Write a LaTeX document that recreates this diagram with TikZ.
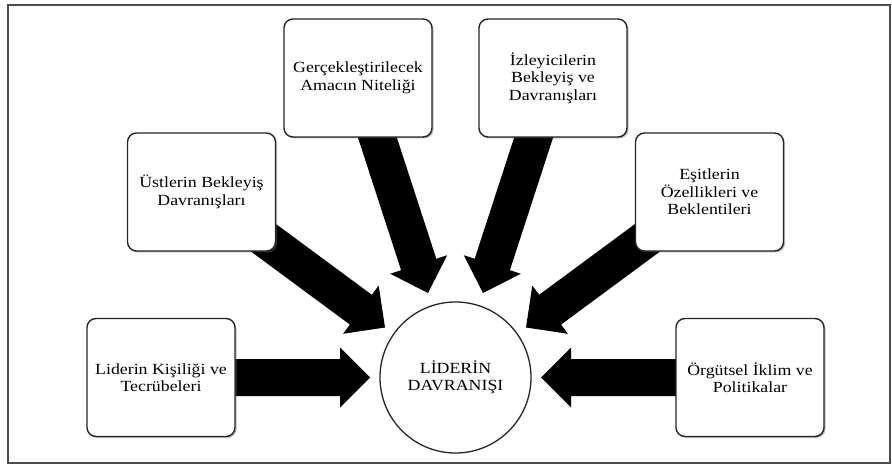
\documentclass[tikz,border=0pt]{standalone}
\usepackage{fontspec}
\setmainfont[FakeStretch=1.15]{Liberation Serif}
\usetikzlibrary{calc,shadows}
\pgfdeclarelayer{background}
\pgfsetlayers{background,main}
\tikzset{
  box/.style={draw=black!85, line width=1.4pt, fill=white, rounded corners=9pt,
    minimum width=148pt, minimum height=118pt, align=center, inner sep=2pt,
    font=\fontsize{15.5}{17.5}\selectfont,
    drop shadow={shadow xshift=1.5pt, shadow yshift=-1.5pt, opacity=0.45, fill=black!60}},
  hub/.style={circle, draw=black!85, line width=1.3pt, fill=white, minimum size=151pt,
    inner sep=0pt, align=center, font=\fontsize{15.5}{17.5}\selectfont},
  arrowfill/.style={fill=black},
  frame/.style={draw=black!70, line width=1.2pt}
}
\newcommand\blockarrow[2]{%
  \coordinate (hb) at ($(#2)!30pt!(#1)$);
  \fill[arrowfill] ($(#1)!18.5pt!90:(#2)$) -- ($(hb)!18.5pt!-90:(#1)$)
    -- ($(hb)!30pt!-90:(#1)$) -- (#2) -- ($(hb)!30pt!90:(#1)$)
    -- ($(hb)!18.5pt!90:(#1)$) -- ($(#1)!18.5pt!-90:(#2)$) -- cycle;
}
\begin{document}
\begin{tikzpicture}[x=1pt, y=-1pt]
\useasboundingbox (0,0) rectangle (892,465);
\draw[frame] (8,5) rectangle (890,463);

\node[hub] (c) at (455.5,377.5) {LİDERİN\\DAVRANIŞI};

\node[box] (b1) at (161,377.5) {Liderin Kişiliği ve\\Tecrübeleri};
\node[box] (b2) at (201.5,192) {Üstlerin Bekleyiş\\Davranışları};
\node[box] (b3) at (358,78) {Gerçekleştirilecek\\Amacın Niteliği};
\node[box] (b4) at (553,78) {İzleyicilerin\\Bekleyiş ve\\Davranışları};
\node[box] (b5) at (709.5,192) {Eşitlerin\\Özellikleri ve\\Beklentileri};
\node[box] (b6) at (750,377.5) {Örgütsel İklim ve\\Politikalar};

\coordinate (t1) at (370,377.5);
\coordinate (t2) at (385,327.5);
\coordinate (t3) at (428,293);
\coordinate (t4) at (483,293);
\coordinate (t5) at (526,327.5);
\coordinate (t6) at (541,377.5);

\begin{pgfonlayer}{background}
\blockarrow{b1.center}{t1}
\blockarrow{b2.center}{t2}
\blockarrow{b3.center}{t3}
\blockarrow{b4.center}{t4}
\blockarrow{b5.center}{t5}
\blockarrow{b6.center}{t6}
\end{pgfonlayer}
\end{tikzpicture}
\end{document}
